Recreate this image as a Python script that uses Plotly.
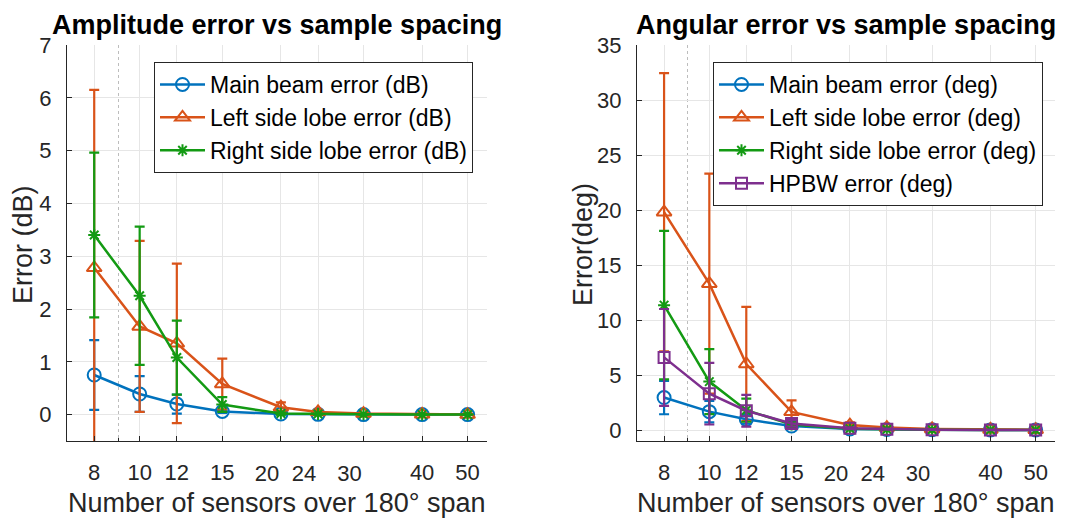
import plotly.graph_objects as go

# Number of sensors over the 180 degree span
sensors = [8, 10, 12, 15, 20, 24, 30, 40, 50]
# Labels 20, 24 and 30 are drawn on a companion axis, nudged left
main_tick_text = ["8", "10", "12", "15", "", "", "", "40", "50"]
shifted_ticks = [20, 24, 30]
shifted_tick_text = ["20", "24", "30"]

# Amplitude errors (dB): mean and standard deviation
amp_main = [0.75, 0.39, 0.20, 0.06, 0.01, 0.005, 0.0, 0.0, 0.0]
amp_main_sd = [0.66, 0.34, 0.18, 0.03, 0.01, 0.005, 0.0, 0.0, 0.0]
amp_left = [2.78, 1.67, 1.35, 0.58, 0.14, 0.05, 0.02, 0.005, 0.0]
amp_left_sd = [3.37, 1.62, 1.51, 0.48, 0.09, 0.04, 0.015, 0.01, 0.0]
amp_right = [3.40, 2.25, 1.08, 0.19, 0.02, 0.01, 0.005, 0.0, 0.0]
amp_right_sd = [1.56, 1.31, 0.70, 0.14, 0.02, 0.01, 0.005, 0.0, 0.0]

# Angular errors (deg): mean and standard deviation
ang_main = [2.95, 1.67, 0.97, 0.36, 0.10, 0.05, 0.02, 0.01, 0.0]
ang_main_sd = [1.52, 0.97, 0.40, 0.15, 0.05, 0.02, 0.01, 0.0, 0.0]
ang_left = [19.8, 13.3, 6.0, 1.65, 0.45, 0.22, 0.10, 0.05, 0.03]
ang_left_sd = [12.65, 10.0, 5.2, 1.05, 0.25, 0.10, 0.05, 0.03, 0.02]
ang_right = [11.35, 4.4, 1.8, 0.5, 0.12, 0.05, 0.02, 0.01, 0.0]
ang_right_sd = [6.75, 2.95, 1.05, 0.25, 0.06, 0.03, 0.01, 0.0, 0.0]
ang_hpbw = [6.6, 3.3, 1.75, 0.6, 0.15, 0.07, 0.03, 0.01, 0.0]
ang_hpbw_sd = [4.4, 2.8, 1.45, 0.3, 0.08, 0.04, 0.02, 0.01, 0.0]

W, H = 1088, 520
BLUE, ORANGE, GREEN, PURPLE = "#0072BD", "#D95319", "#139A13", "#7E2F8E"
FONT = "Liberation Sans, Arial, sans-serif"
AX = "#262626"
X_RANGE = [0.845098, 1.740363]  # log10(7) .. log10(55)


def px(x):
    return x / W


def py(y):
    return 1 - y / H


def series(x, y, sd, name, color, symbol, msize, xa, ya, legend):
    return go.Scatter(
        x=x, y=y, name=name, mode="lines+markers",
        xaxis=xa, yaxis=ya, legend=legend,
        line=dict(color=color, width=2.5),
        marker=dict(symbol=symbol, size=msize, color=color,
                    line=dict(color=color, width=2)),
        error_y=dict(type="data", array=sd, visible=True,
                     color=color, thickness=2.2, width=5),
    )


fig = go.Figure()
fig.add_trace(series(sensors, amp_main, amp_main_sd, "Main beam error (dB)", BLUE, "circle-open", 13, "x", "y", "legend"))
fig.add_trace(series(sensors, amp_left, amp_left_sd, "Left side lobe error (dB)", ORANGE, "triangle-up-open", 13, "x", "y", "legend"))
fig.add_trace(series(sensors, amp_right, amp_right_sd, "Right side lobe error (dB)", GREEN, "asterisk-open", 10, "x", "y", "legend"))

fig.add_trace(series(sensors, ang_main, ang_main_sd, "Main beam error (deg)", BLUE, "circle-open", 13, "x2", "y2", "legend2"))
fig.add_trace(series(sensors, ang_left, ang_left_sd, "Left side lobe error (deg)", ORANGE, "triangle-up-open", 13, "x2", "y2", "legend2"))
fig.add_trace(series(sensors, ang_right, ang_right_sd, "Right side lobe error (deg)", GREEN, "asterisk-open", 10, "x2", "y2", "legend2"))
fig.add_trace(series(sensors, ang_hpbw, ang_hpbw_sd, "HPBW error (deg)", PURPLE, "square-open", 11, "x2", "y2", "legend2"))

# Empty carriers so the companion label axes get drawn
for xa, ya in (("x3", "y"), ("x4", "y2")):
    fig.add_trace(go.Scatter(x=shifted_ticks, y=[None] * len(shifted_ticks),
                             mode="markers", xaxis=xa, yaxis=ya,
                             showlegend=False, hoverinfo="skip"))

tickfont = dict(family=FONT, size=22, color=AX)

xaxis_common = dict(
    type="log", range=X_RANGE,
    tickmode="array", tickvals=sensors, ticktext=main_tick_text, tickangle=0,
    ticks="inside", ticklen=5, tickcolor=AX, tickwidth=1,
    showline=True, linecolor=AX, linewidth=1, mirror=False,
    showgrid=True, gridcolor="#E6E6E6", gridwidth=1,
    zeroline=False, ticklabelstandoff=12, automargin=False,
    tickfont=tickfont,
    minor=dict(tickvals=[9], showgrid=True, gridcolor="#BDBDBD",
               griddash="dot", ticks="inside", ticklen=3, tickcolor=AX),
)
xaxis_shifted = dict(
    type="log", range=X_RANGE,
    tickmode="array", tickvals=shifted_ticks, ticktext=shifted_tick_text,
    tickangle=0, ticks="", showline=False, showgrid=False, zeroline=False,
    ticklabelstandoff=17, ticklabelshift=-14, automargin=False,
    tickfont=tickfont,
)
yaxis_common = dict(
    ticks="inside", ticklen=5, tickcolor=AX, tickwidth=1,
    showline=True, linecolor=AX, linewidth=1, mirror=False,
    showgrid=True, gridcolor="#E6E6E6", gridwidth=1,
    zeroline=False, ticklabelstandoff=10, automargin=False,
    tickfont=tickfont,
)
legend_common = dict(
    xanchor="left", yanchor="top",
    bgcolor="white", bordercolor=AX, borderwidth=1,
    font=dict(family=FONT, size=23, color="black"),
    itemwidth=45, tracegroupgap=0,
)

fig.update_layout(
    width=W, height=H,
    margin=dict(l=0, r=0, t=0, b=0, autoexpand=False),
    paper_bgcolor="white", plot_bgcolor="white",
    font=dict(family=FONT, color="black"),
    xaxis=dict(domain=[px(67), px(487)], anchor="y", **xaxis_common),
    yaxis=dict(domain=[py(441), py(45)], anchor="x", range=[-0.5, 7],
               tickvals=[0, 1, 2, 3, 4, 5, 6, 7], **yaxis_common),
    xaxis2=dict(domain=[px(637), px(1055)], anchor="y2", **xaxis_common),
    yaxis2=dict(domain=[py(441), py(45)], anchor="x2", range=[-1, 35],
                tickvals=[0, 5, 10, 15, 20, 25, 30, 35], **yaxis_common),
    xaxis3=dict(overlaying="x", anchor="y", side="bottom", **xaxis_shifted),
    xaxis4=dict(overlaying="x2", anchor="y2", side="bottom", **xaxis_shifted),
    legend=dict(x=px(154), y=py(62), **legend_common),
    legend2=dict(x=px(713), y=py(62), **legend_common),
    showlegend=True,
)

annotations = [
    dict(text="<b>Amplitude error vs sample spacing</b>", x=px(277), y=py(25),
         yanchor="middle", font=dict(size=27, color="black")),
    dict(text="<b>Angular error vs sample spacing</b>", x=px(846), y=py(25),
         yanchor="middle", font=dict(size=27, color="black")),
    dict(text="Number of sensors over 180° span", x=px(277), y=0,
         yanchor="bottom", font=dict(size=27, color=AX)),
    dict(text="Number of sensors over 180° span", x=px(846), y=0,
         yanchor="bottom", font=dict(size=27, color=AX)),
    dict(text="Error (dB)", x=px(23), y=py(245), textangle=-90,
         yanchor="middle", font=dict(size=27, color=AX)),
    dict(text="Error(deg)", x=px(583), y=py(245), textangle=-90,
         yanchor="middle", font=dict(size=27, color=AX)),
]
for a in annotations:
    a.update(xref="paper", yref="paper", showarrow=False, xanchor="center")
    a["font"]["family"] = FONT
fig.update_layout(annotations=annotations)

fig.write_html("out.html")
